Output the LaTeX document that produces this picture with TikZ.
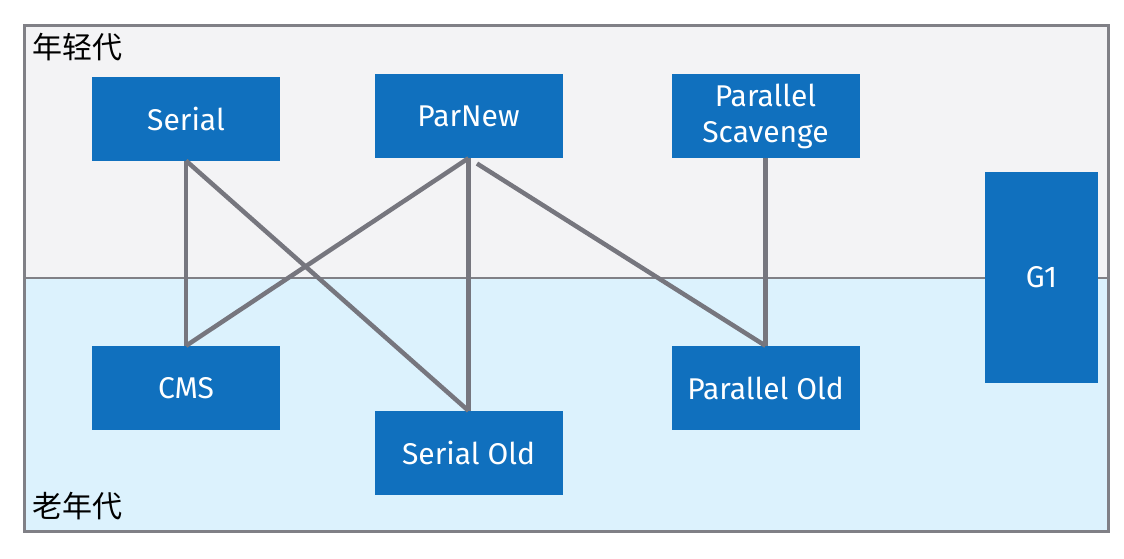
\documentclass[tikz,border=0pt]{standalone}
\usepackage{fontspec}
\setmainfont{Fira Sans}
\newfontfamily\cjk{Noto Sans CJK SC}
\definecolor{gcblue}{HTML}{1070BE}
\definecolor{gcline}{HTML}{76767E}
\definecolor{frame}{HTML}{808086}
\definecolor{youngbg}{HTML}{F3F3F5}
\definecolor{oldbg}{HTML}{DCF2FD}
\tikzset{
  gcbox/.style={rectangle, fill=gcblue, text=white, minimum width=188pt, minimum height=84pt, inner sep=0pt, align=center, font=\fontsize{30}{36}\selectfont},
  link/.style={draw=gcline, line width=4.5pt},
  zonelabel/.style={font=\cjk\fontsize{30}{36}\selectfont, inner sep=0pt, anchor=west}
}
\begin{document}
\begin{tikzpicture}[x=1pt,y=-1pt]
\useasboundingbox (0,0) rectangle (1124,558);
\fill[white] (0,0) rectangle (1124,558);
\fill[youngbg] (24,25) rectangle (1108,278);
\fill[oldbg] (24,278) rectangle (1108,531);
\draw[frame, line width=1.5pt] (24,278) -- (1108,278);
\draw[frame, line width=3pt] (24,25) rectangle (1108,531);
\node[zonelabel] (young) at (32,47) {年轻代};
\node[zonelabel] (old) at (32,506) {老年代};

\node[gcbox] (serial) at (186,118.5) {Serial};
\node[gcbox] (parnew) at (468.5,116) {ParNew};
\node[gcbox] (ps) at (765.5,116) {Parallel\\Scavenge};
\node[gcbox] (cms) at (186,388) {CMS};
\node[gcbox] (serialold) at (468.5,453) {Serial Old};
\node[gcbox] (pold) at (765.5,388) {Parallel Old};
\node[gcbox, minimum width=113pt, minimum height=211pt] (g1) at (1041.5,277.5) {G1};

\draw[link] (serial.south) -- (cms.north);
\draw[link] (serial.south) -- (serialold.north);
\draw[link] (parnew.south) -- (cms.north);
\draw[link] (parnew.south) -- (serialold.north);
\draw[link, shorten <=10pt] (parnew.south) -- (pold.north);
\draw[link] (ps.south) -- (pold.north);
\end{tikzpicture}
\end{document}
